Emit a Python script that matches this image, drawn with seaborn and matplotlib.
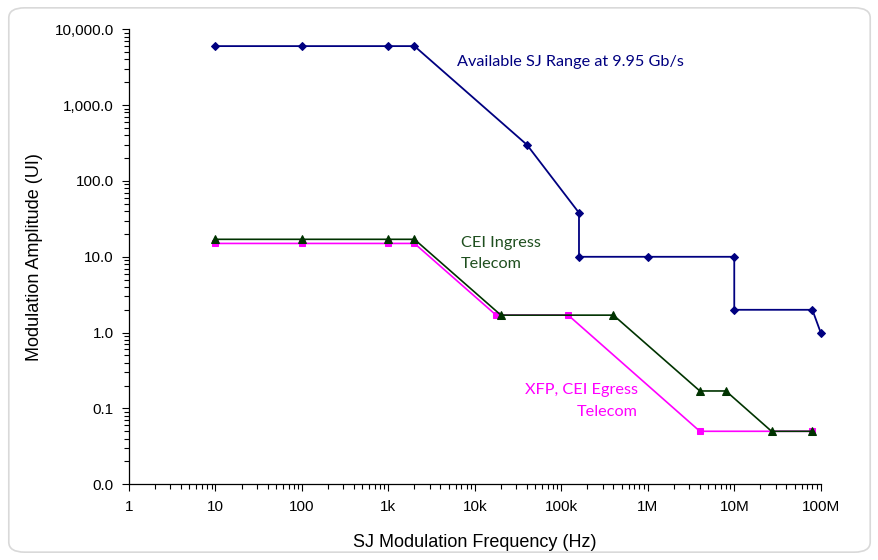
import matplotlib
matplotlib.use("Agg")
import matplotlib.pyplot as plt
import matplotlib.ticker as mticker
from matplotlib.patches import FancyBboxPatch
import seaborn as sns
import pandas as pd

# ---- data ----
avail_x = [10, 100, 1000, 2000, 40000, 160000, 160000, 1e6, 1e7, 1e7, 8e7, 1e8]
avail_y = [6000, 6000, 6000, 6000, 300, 38, 10, 10, 10, 2, 2, 1]

ingress_x = [10, 100, 1000, 2000, 20000, 400000, 4e6, 8e6, 2.7e7, 8e7]
ingress_y = [17, 17, 17, 17, 1.7, 1.7, 0.17, 0.17, 0.05, 0.05]

egress_x = [10, 100, 1000, 2000, 17600, 120000, 4e6, 8e7]
egress_y = [15, 15, 15, 15, 1.7, 1.7, 0.05, 0.05]

x_ticks = [1, 10, 100, 1e3, 1e4, 1e5, 1e6, 1e7, 1e8]
x_tick_labels = ["1", "10", "100", "1k", "10k", "100k", "1M", "10M", "100M"]
y_ticks = [0.01, 0.1, 1, 10, 100, 1000, 10000]
y_tick_labels = ["0.0", "0.1", "1.0", "10.0", "100.0", "1,000.0", "10,000.0"]

sns.set_theme(style="white")
plt.rcParams['font.family'] = ['Liberation Sans', 'DejaVu Sans']

fig = plt.figure(figsize=(8.79, 5.6), dpi=100)
border = FancyBboxPatch((0.010, 0.014), 0.980, 0.972, boxstyle="round,pad=0,rounding_size=0.018",
                        transform=fig.transFigure, facecolor="white", edgecolor="#D9D9D9",
                        linewidth=1.2, zorder=-10)
fig.patches.append(border)

ax = fig.add_axes([0.1468, 0.1352, 0.7869, 0.8125])
ax.set_facecolor("none")

egress = pd.DataFrame({"f": egress_x, "a": egress_y})
ingress = pd.DataFrame({"f": ingress_x, "a": ingress_y})
avail = pd.DataFrame({"f": avail_x, "a": avail_y})

sns.lineplot(data=egress, x="f", y="a", ax=ax, sort=False, estimator=None, color="#FF00FF",
             marker="s", markersize=5, markeredgecolor="#FF00FF", linewidth=1.2, zorder=3,
             clip_on=False)
sns.lineplot(data=ingress, x="f", y="a", ax=ax, sort=False, estimator=None, color="#003300",
             marker="^", markersize=6, markeredgecolor="#003300", linewidth=1.2, zorder=4,
             clip_on=False)
sns.lineplot(data=avail, x="f", y="a", ax=ax, sort=False, estimator=None, color="#000080",
             marker="D", markersize=4.5, markeredgecolor="#000080", linewidth=1.3, zorder=5,
             clip_on=False)

ax.set_xscale("log")
ax.set_yscale("log")
ax.set_xlim(1, 1e8)
ax.set_ylim(0.01, 10000)

ax.set_xticks(x_ticks)
ax.set_xticklabels(x_tick_labels)
ax.set_yticks(y_ticks)
ax.set_yticklabels(y_tick_labels)
ax.xaxis.set_minor_locator(mticker.LogLocator(base=10, subs=range(2, 10), numticks=20))
ax.yaxis.set_minor_locator(mticker.LogLocator(base=10, subs=range(2, 10), numticks=20))
ax.xaxis.set_minor_formatter(mticker.NullFormatter())
ax.yaxis.set_minor_formatter(mticker.NullFormatter())

narrow = ['Liberation Sans Narrow', 'Liberation Sans', 'DejaVu Sans']
for lab in ax.get_xticklabels() + ax.get_yticklabels():
    lab.set_family(narrow)
    lab.set_fontsize(11)
    lab.set_color("black")

ax.tick_params(axis="both", which="major", direction="out", length=5, width=0.8, color="black",
               bottom=True, left=True, pad=6)
ax.tick_params(axis="both", which="minor", direction="out", length=3.5, width=0.8, color="black",
               bottom=True, left=True)

for s in ["top", "right"]:
    ax.spines[s].set_visible(False)
for s in ["bottom", "left"]:
    ax.spines[s].set_color("black")
    ax.spines[s].set_linewidth(0.9)
ax.grid(False)

ax.set_xlabel("SJ Modulation Frequency (Hz)", fontsize=13, color="black", labelpad=15)
ax.set_ylabel("Modulation Amplitude (UI)", fontsize=13, color="black", labelpad=8)

ann_font = ['Lato', 'DejaVu Sans']
fig.text(457 / 879, 1 - 62 / 560, "Available SJ Range at 9.95 Gb/s", color="#000080",
         fontsize=11.7, family=ann_font, ha="left", va="center")
fig.text(461 / 879, 1 - 253.5 / 560, "CEI Ingress\nTelecom", color="#1F4F1F",
         fontsize=11.7, family=ann_font, ha="left", va="center", linespacing=1.68)
fig.text(638 / 879, 1 - 401 / 560, "XFP, CEI Egress\nTelecom", color="#FF00FF",
         fontsize=11.7, family=ann_font, ha="right", va="center", multialignment="right",
         linespacing=1.68)

fig.savefig("out.png", dpi=100)
